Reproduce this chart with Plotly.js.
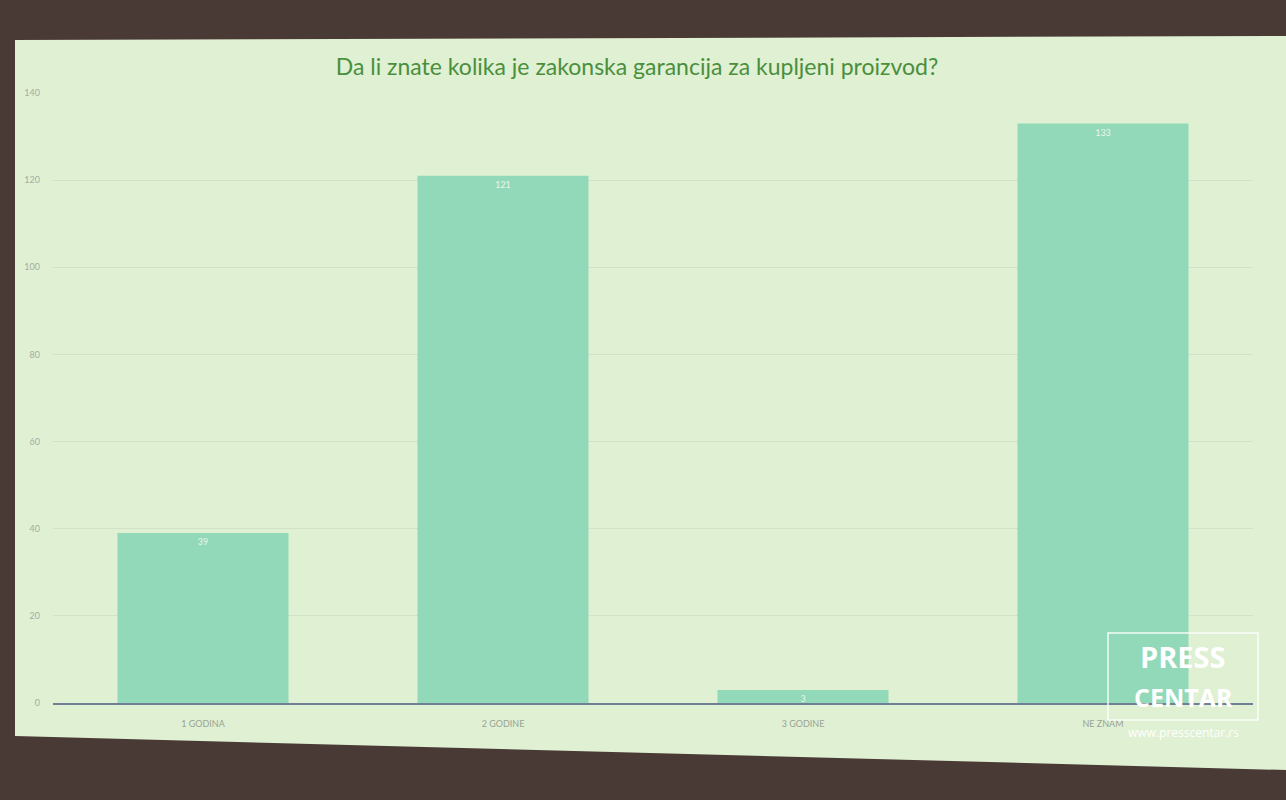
<!DOCTYPE html>
<html>
<head>
<meta charset="utf-8">
<script src="https://cdn.plot.ly/plotly-3.0.1.min.js"></script>
<style>html,body{margin:0;padding:0;background:#4a3a36;}#chart{width:1286px;height:800px;}</style>
</head>
<body>
<div id="chart"></div>
<script>
const categories = ["1 GODINA", "2 GODINE", "3 GODINE", "NE ZNAM"];
const values = [39, 121, 3, 133];
const yTicks = [0, 20, 40, 60, 80, 100, 120, 140];

const W = 1286, H = 800, L = 53, R = 33, T = 93, B = 97;
const pw = W - L - R, ph = H - T - B;
function px(x){ return (x - L) / pw; }
function py(y){ return (H - B - y) / ph; }

const trace = {
  type: 'bar',
  x: categories,
  y: values,
  text: values.map(String),
  textposition: 'inside',
  insidetextanchor: 'end',
  textangle: 0,
  constraintext: 'none',
  textfont: {family: 'Lato, sans-serif', size: 9, color: '#e8f6ee'},
  marker: {color: '#92d9b9'},
  hoverinfo: 'x+y'
};

const screenPath = `M ${px(15)},${py(40)} L ${px(1286)},${py(36)} L ${px(1286)},${py(770)} L ${px(15)},${py(736)} Z`;

const layout = {
  width: W, height: H,
  margin: {l: L, r: R, t: T, b: B},
  paper_bgcolor: '#4a3a36',
  plot_bgcolor: 'rgba(0,0,0,0)',
  bargap: 0.43,
  showlegend: false,
  title: {
    text: 'Da li znate kolika je zakonska garancija za kupljeni proizvod?',
    x: (637 - L) / pw, xref: 'paper', xanchor: 'center',
    y: (H - 67) / H, yanchor: 'middle',
    font: {family: 'Lato, sans-serif', size: 23, color: '#4a8f3c'}
  },
  xaxis: {
    type: 'category',
    showgrid: false,
    showline: true,
    linecolor: '#6f7f95',
    linewidth: 1.5,
    ticks: '',
    ticklabelstandoff: 12,
    tickfont: {family: 'Lato, sans-serif', size: 9, color: '#9aa393'},
    zeroline: false
  },
  yaxis: {
    range: [0, 140],
    tickvals: yTicks,
    ticktext: yTicks.map(String),
    showgrid: true,
    gridcolor: 'rgba(120,130,120,0.13)',
    zeroline: false,
    showline: false,
    ticks: '',
    ticklabelstandoff: 12,
    tickfont: {family: 'Lato, sans-serif', size: 9, color: '#a5ad9f'}
  },
  shapes: [
    {type: 'path', xref: 'paper', yref: 'paper', path: screenPath, fillcolor: '#dff0d3', line: {width: 0}, layer: 'below'},
    {type: 'rect', xref: 'paper', yref: 'paper', x0: px(1108), x1: px(1258), y0: py(720), y1: py(633), line: {color: 'rgba(255,255,255,0.9)', width: 1.5}, fillcolor: 'rgba(0,0,0,0)', layer: 'above'}
  ],
  annotations: [
    {xref: 'paper', yref: 'paper', x: px(1183), y: py(656), text: '<b>PRESS</b>', showarrow: false, font: {family: 'Open Sans, sans-serif', size: 29, color: '#ffffff'}, xanchor: 'center', yanchor: 'middle'},
    {xref: 'paper', yref: 'paper', x: px(1183), y: py(697), text: '<b>CENTAR</b>', showarrow: false, font: {family: 'Open Sans, sans-serif', size: 25, color: '#ffffff'}, xanchor: 'center', yanchor: 'middle'},
    {xref: 'paper', yref: 'paper', x: px(1183), y: py(732), text: 'www.presscentar.rs', showarrow: false, font: {family: 'Open Sans, sans-serif', size: 12, color: '#ffffff'}, xanchor: 'center', yanchor: 'middle'}
  ]
};

Plotly.newPlot('chart', [trace], layout, {displayModeBar: false, staticPlot: true});
</script>
</body>
</html>
